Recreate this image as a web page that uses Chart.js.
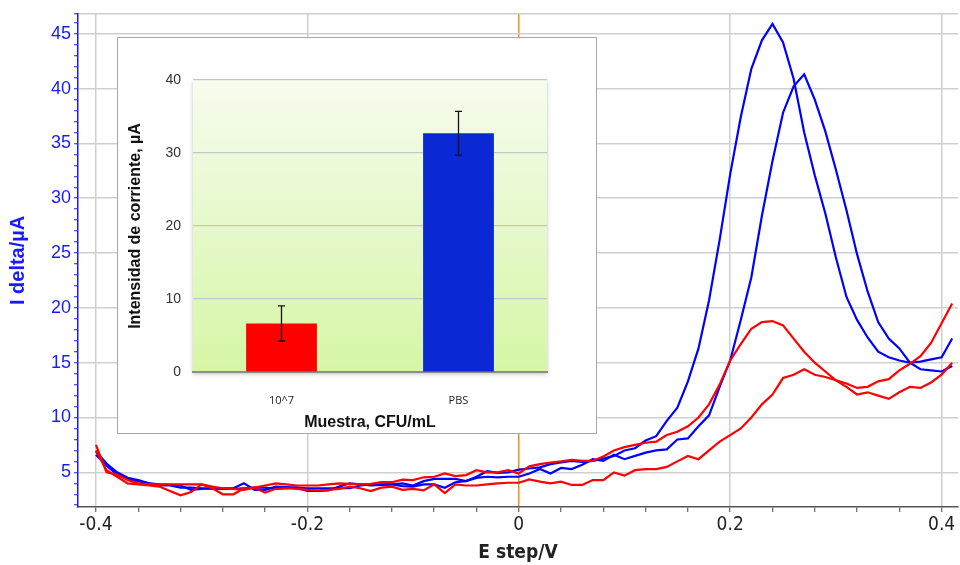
<!DOCTYPE html>
<html>
<head>
<meta charset="utf-8">
<script src="https://cdn.jsdelivr.net/npm/chart.js@4"></script>
<style>
body { margin: 0; background: #fff; }
#wrap { position: relative; width: 960px; height: 565px; }
#inset { position: absolute; left: 117px; top: 37px; width: 478px; height: 395px; background: #fff; border: 1px solid #a8a8a8; }
canvas { display: block; }
</style>
</head>
<body>
<div id="wrap">
  <canvas id="mainchart" width="960" height="565"></canvas>
  <div id="inset"><canvas id="barchart" width="478" height="395"></canvas></div>
</div>
<script>
// potential steps (V)
const potentials = [
  -0.40, -0.39, -0.38, -0.37, -0.36, -0.35, -0.34, -0.33, -0.32, -0.31,
  -0.30, -0.29, -0.28, -0.27, -0.26, -0.25, -0.24, -0.23, -0.22, -0.21,
  -0.20, -0.19, -0.18, -0.17, -0.16, -0.15, -0.14, -0.13, -0.12, -0.11,
  -0.10, -0.09, -0.08, -0.07, -0.06, -0.05, -0.04, -0.03, -0.02, -0.01,
  0.00, 0.01, 0.02, 0.03, 0.04, 0.05, 0.06, 0.07, 0.08, 0.09,
  0.10, 0.11, 0.12, 0.13, 0.14, 0.15, 0.16, 0.17, 0.18, 0.19,
  0.20, 0.21, 0.22, 0.23, 0.24, 0.25, 0.26, 0.27, 0.28, 0.29,
  0.30, 0.31, 0.32, 0.33, 0.34, 0.35, 0.36, 0.37, 0.38, 0.39,
  0.40, 0.41
];

// blue curves (PBS)
const pbsRun1 = [
  6.9, 5.8, 5.0, 4.5, 4.3, 4.0, 3.9, 3.85, 3.8, 3.4,
  3.5, 3.55, 3.55, 3.55, 4.0, 3.4, 3.4, 3.7, 3.65, 3.6,
  3.3, 3.3, 3.35, 3.7, 4.0, 3.9, 3.8, 3.85, 3.9, 4.0,
  3.8, 4.2, 4.4, 4.4, 4.4, 4.2, 4.6, 5.1, 4.95, 5.0,
  5.25, 5.35, 5.45, 5.75, 5.9, 6.05, 5.95, 6.05, 6.25, 6.5,
  7.0, 7.2, 7.9, 8.3, 9.7, 10.9, 13.3, 16.3, 20.7, 26.2,
  32.2, 37.4, 41.8, 44.4, 45.9, 44.2, 40.9, 36.0, 32.1, 28.6,
  24.6, 21.0, 18.9, 17.3, 16.0, 15.5, 15.2, 15.0, 15.1, 15.3,
  15.5, 17.2
];
const pbsRun2 = [
  6.6, 5.6, 4.8, 4.4, 4.2, 4.0, 3.8, 3.8, 3.6, 3.6,
  3.55, 3.5, 3.5, 3.5, 3.55, 3.6, 3.6, 3.5, 3.55, 3.6,
  3.55, 3.55, 3.55, 3.55, 3.55, 3.8, 3.9, 3.9, 3.9, 3.75,
  3.7, 3.9, 3.9, 3.6, 4.1, 4.2, 4.5, 4.6, 4.55, 4.6,
  4.6, 4.9, 5.3, 4.9, 5.4, 5.3, 5.7, 6.2, 6.05, 6.6,
  6.2, 6.5, 6.8, 7.0, 7.1, 8.0, 8.1, 9.2, 10.2, 12.8,
  15.2, 18.9, 22.8, 28.4, 33.4, 37.8, 40.2, 41.3, 39.0, 36.1,
  32.6, 28.9, 24.9, 21.5, 18.7, 17.2, 16.3, 15.0, 14.4, 14.3,
  14.2, 14.7
];

// red curves (10^7 CFU/mL)
const cfuRun1 = [
  7.5, 5.0, 4.8, 4.3, 4.0, 3.9, 3.9, 3.9, 3.9, 3.9,
  3.9, 3.7, 3.55, 3.5, 3.4, 3.6, 3.8, 4.0, 3.9, 3.8,
  3.8, 3.8, 3.9, 4.0, 3.95, 3.9, 3.95, 4.1, 4.1, 4.33,
  4.3, 4.55, 4.6, 4.9, 4.65, 4.75, 5.2, 5.0, 5.0, 5.2,
  4.9, 5.55, 5.75, 5.9, 6.0, 6.15, 6.05, 6.05, 6.45, 7.0,
  7.3, 7.5, 7.7, 7.8, 8.4, 8.7, 9.2, 10.0, 11.2, 13.0,
  15.2, 16.7, 18.1, 18.7, 18.8, 18.4, 17.2, 16.0, 15.0, 14.2,
  13.4, 12.8, 12.1, 12.3, 12.0, 11.7, 12.3, 12.8, 12.7, 13.2,
  13.9, 15.0
];
const cfuRun2 = [
  7.0, 5.2, 4.6, 4.0, 3.9, 3.8, 3.7, 3.3, 2.9, 3.2,
  3.9, 3.55, 3.0, 3.0, 3.55, 3.6, 3.15, 3.5, 3.55, 3.5,
  3.4, 3.35, 3.4, 3.5, 3.7, 3.55, 3.3, 3.6, 3.7, 3.4,
  3.5, 3.35, 3.9, 3.1, 3.9, 3.8, 3.8, 3.9, 4.0, 4.05,
  4.05, 4.35, 4.15, 4.0, 4.15, 3.85, 3.85, 4.3, 4.3, 5.0,
  4.7, 5.2, 5.3, 5.3, 5.5, 6.0, 6.5, 6.2, 7.0, 7.8,
  8.4, 9.0, 10.0, 11.2, 12.1, 13.6, 13.9, 14.4, 13.9, 13.7,
  13.4, 13.1, 12.7, 12.8, 13.3, 13.5, 14.3, 14.9, 15.6, 16.8,
  18.6, 20.4
];

const xTickValues = [-0.4, -0.36, -0.32, -0.28, -0.24, -0.2, -0.16, -0.12, -0.08, -0.04,
  0, 0.04, 0.08, 0.12, 0.16, 0.2, 0.24, 0.28, 0.32, 0.36, 0.4];
const xLabelValues = [-0.4, -0.2, 0, 0.2, 0.4];
const yLabelValues = [5, 10, 15, 20, 25, 30, 35, 40, 45];

// inset bar chart
const sampleLabels = ['10^7', 'PBS'];
const meanCurrent = [6.65, 32.7];
const currentError = [2.4, 3.0];
const barColors = ['#ff0000', '#0a28d4'];

const narrow = "'Liberation Sans Narrow', 'DejaVu Sans Condensed', 'Liberation Sans', sans-serif";
const arial = "'Liberation Sans', Arial, sans-serif";

function isLabelled(v, list) {
  return list.some(l => Math.abs(l - v) < 1e-6);
}

function series(label, values, color) {
  return {
    label: label,
    data: potentials.map((x, i) => ({x: x, y: values[i]})),
    borderColor: color,
    borderWidth: 2.2,
    pointRadius: 0,
    tension: 0,
    fill: false
  };
}

new Chart('mainchart', {
  type: 'line',
  data: {
    datasets: [
      series('10^7 a', cfuRun1, '#ff0000'),
      series('10^7 b', cfuRun2, '#ff0000'),
      series('PBS a', pbsRun1, '#0000ff'),
      series('PBS b', pbsRun2, '#0000ff')
    ]
  },
  options: {
    responsive: false,
    animation: false,
    devicePixelRatio: 1,
    layout: {padding: {top: 13, right: 2, left: 0, bottom: 0}},
    plugins: {legend: {display: false}, tooltip: {enabled: false}},
    scales: {
      x: {
        type: 'linear',
        min: -0.417,
        max: 0.4155,
        afterBuildTicks: s => { s.ticks = xTickValues.map(v => ({value: v})); },
        afterFit: s => { s.height = 58; },
        grid: {
          color: ctx => {
            const v = ctx.tick ? ctx.tick.value : null;
            if (v === null) return 'rgba(0,0,0,0)';
            if (Math.abs(v) < 1e-6) return '#f0901e';
            return isLabelled(v, xLabelValues) ? '#cfcfcf' : 'rgba(0,0,0,0)';
          },
          lineWidth: 1.5,
          tickColor: '#444',
          tickWidth: 1,
          tickLength: 5
        },
        border: {color: '#555', width: 1.5},
        ticks: {
          autoSkip: false,
          maxRotation: 0,
          padding: 2,
          color: '#222',
          font: {family: narrow, size: 19},
          callback: v => isLabelled(v, xLabelValues) ? String(+v.toFixed(2)) : ''
        },
        title: {
          display: true,
          text: 'E step/V',
          color: '#222',
          font: {family: narrow, size: 19, weight: 'bold'},
          padding: {top: 0, bottom: 1}
        }
      },
      y: {
        min: 1.84,
        max: 46.82,
        afterBuildTicks: s => {
          const t = [];
          for (let v = 2; v <= 46; v++) t.push({value: v});
          t.push({value: 46.82});
          s.ticks = t;
        },
        afterFit: s => { s.width = 78; },
        grid: {
          color: ctx => {
            const v = ctx.tick ? ctx.tick.value : null;
            if (v === null) return 'rgba(0,0,0,0)';
            if (v > 46.5) return '#cfcfcf';
            return isLabelled(v, yLabelValues) ? '#cfcfcf' : 'rgba(0,0,0,0)';
          },
          lineWidth: 1.5,
          tickColor: '#1a1aff',
          tickWidth: 1,
          tickLength: 4
        },
        border: {color: '#1a1aff', width: 1.5},
        ticks: {
          autoSkip: false,
          padding: 3,
          color: '#1a1aff',
          font: {family: arial, size: 18},
          callback: v => isLabelled(v, yLabelValues) ? String(v) : ''
        },
        title: {
          display: true,
          text: 'I delta/\u00b5A',
          color: '#1a1aff',
          font: {family: arial, size: 20, weight: 'bold'},
          padding: {top: 6, bottom: 0}
        }
      }
    }
  }
});

const plotBackground = {
  id: 'plotBackground',
  beforeDraw(chart) {
    const {ctx, chartArea: a} = chart;
    const g = ctx.createLinearGradient(0, a.top, 0, a.bottom);
    g.addColorStop(0, '#f6fcee');
    g.addColorStop(1, '#d6f6a6');
    ctx.save();
    ctx.shadowColor = 'rgba(0,0,0,0.25)';
    ctx.shadowBlur = 4;
    ctx.shadowOffsetY = 2;
    ctx.fillStyle = g;
    ctx.fillRect(a.left, a.top, a.right - a.left, a.bottom - a.top);
    ctx.restore();
  }
};

const errorBars = {
  id: 'errorBars',
  afterDatasetsDraw(chart) {
    const {ctx} = chart;
    const y = chart.scales.y;
    const meta = chart.getDatasetMeta(0);
    ctx.save();
    ctx.strokeStyle = '#111';
    ctx.lineWidth = 1.3;
    meta.data.forEach((bar, i) => {
      const top = y.getPixelForValue(meanCurrent[i] + currentError[i]);
      const bot = y.getPixelForValue(meanCurrent[i] - currentError[i]);
      ctx.beginPath();
      ctx.moveTo(bar.x, top); ctx.lineTo(bar.x, bot);
      ctx.moveTo(bar.x - 3.5, top); ctx.lineTo(bar.x + 3.5, top);
      ctx.moveTo(bar.x - 3.5, bot); ctx.lineTo(bar.x + 3.5, bot);
      ctx.stroke();
    });
    ctx.restore();
  }
};

new Chart('barchart', {
  type: 'bar',
  data: {
    labels: sampleLabels,
    datasets: [{
      data: meanCurrent,
      backgroundColor: barColors,
      barPercentage: 0.4,
      categoryPercentage: 1
    }]
  },
  options: {
    responsive: false,
    animation: false,
    devicePixelRatio: 1,
    layout: {padding: {top: 42, right: 49, left: 0, bottom: 0}},
    plugins: {legend: {display: false}, tooltip: {enabled: false}},
    scales: {
      x: {
        afterFit: s => { s.height = 61; },
        grid: {display: false},
        border: {color: '#8c8c8c', width: 2},
        ticks: {
          padding: 14,
          color: '#222',
          font: {family: "'Open Sans', 'DejaVu Sans', sans-serif", size: 11}
        },
        title: {
          display: true,
          text: 'Muestra, CFU/mL',
          color: '#111',
          font: {family: arial, size: 16, weight: 'bold'},
          padding: {top: 0, bottom: 1}
        }
      },
      y: {
        min: 0,
        max: 40,
        afterFit: s => { s.width = 75; },
        grid: {color: '#c6c6c6', lineWidth: 1.2, drawTicks: false},
        border: {display: false},
        ticks: {
          stepSize: 10,
          padding: 12,
          color: '#333',
          font: {family: arial, size: 14}
        },
        title: {
          display: true,
          text: 'Intensidad de corriente, \u00b5A',
          color: '#111',
          font: {family: arial, size: 16, weight: 'bold'},
          padding: {top: 8, bottom: 0}
        }
      }
    }
  },
  plugins: [plotBackground, errorBars]
});
</script>
</body>
</html>
